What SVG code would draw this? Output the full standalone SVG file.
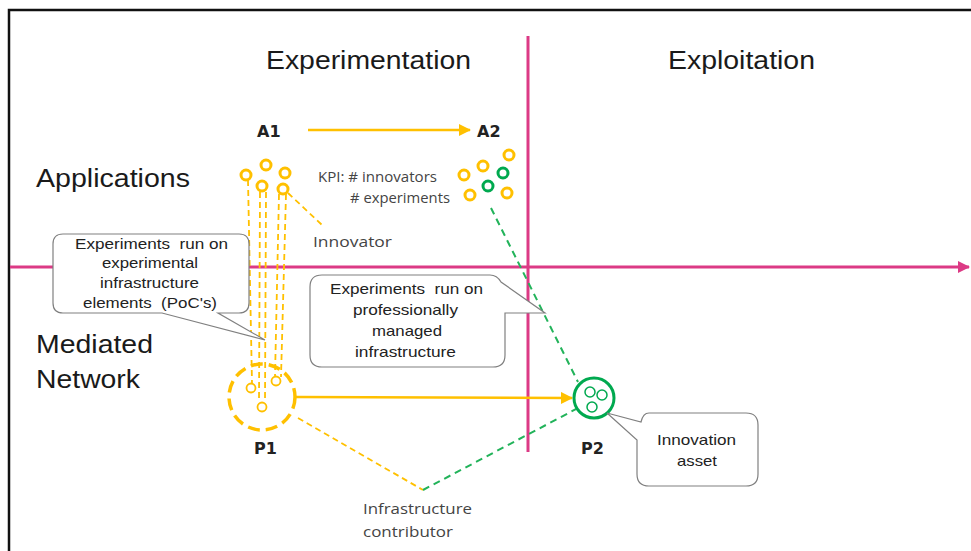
<svg xmlns="http://www.w3.org/2000/svg" width="971" height="551" viewBox="0 0 971 551">
<style>
.hdr{font-family:"Liberation Sans",Arial,sans-serif;font-size:26px;fill:#1a1a1a}
.lbl{font-family:"DejaVu Sans",Verdana,sans-serif;font-size:16px;font-weight:bold;fill:#222}
.sm{font-family:"Open Sans","Liberation Sans",sans-serif;font-size:14px;fill:#444}
.co{font-family:"Liberation Sans",Arial,sans-serif;font-size:15px;fill:#222}
.callout{fill:#fff;stroke:#808080;stroke-width:1.2}
.ring-y{fill:none;stroke:#FFC000;stroke-width:3}
.ring-g{fill:none;stroke:#00A94F;stroke-width:3}
.dy{fill:none;stroke:#FFC000;stroke-width:1.8;stroke-dasharray:6 4}
.dg{fill:none;stroke:#22B35A;stroke-width:2;stroke-dasharray:7 5}
.pink{stroke:#DC3A85;stroke-width:3;fill:none}
</style>
<defs>
<marker id="ay" markerWidth="12" markerHeight="12" refX="11" refY="6" orient="auto" markerUnits="userSpaceOnUse" viewBox="0 0 12 12"><path d="M0,0 L12,6 L0,12 z" fill="#FFC000"/></marker>
<marker id="ap" markerWidth="12" markerHeight="12" refX="11" refY="6" orient="auto" markerUnits="userSpaceOnUse" viewBox="0 0 12 12"><path d="M0,0 L12,6 L0,12 z" fill="#DC3A85"/></marker>
</defs>
<rect width="971" height="551" fill="#fff"/>
<path d="M9,551 L9,10 L971,10" fill="none" stroke="#111" stroke-width="2.5"/>

<g id="axes">
<line class="pink" x1="10" y1="267" x2="969" y2="267" marker-end="url(#ap)"/>
<line class="pink" x1="528" y1="36" x2="528" y2="452"/>
</g>

<g id="headers">
<text class="hdr" x="266" y="69" textLength="205" lengthAdjust="spacingAndGlyphs">Experimentation</text>
<text class="hdr" x="668" y="69" textLength="147" lengthAdjust="spacingAndGlyphs">Exploitation</text>
<text class="hdr" x="36" y="187" textLength="154" lengthAdjust="spacingAndGlyphs">Applications</text>
<text class="hdr" x="36" y="353" textLength="117" lengthAdjust="spacingAndGlyphs">Mediated</text>
<text class="hdr" x="36" y="388" textLength="104" lengthAdjust="spacingAndGlyphs">Network</text>
</g>

<g id="connectors">
<line x1="308" y1="130" x2="470" y2="130" stroke="#FFC000" stroke-width="2.5" marker-end="url(#ay)"/>
<line x1="296" y1="397" x2="572" y2="398" stroke="#FFC000" stroke-width="2.5" marker-end="url(#ay)"/>
<path class="dy" d="M248,180 L252,383"/>
<path class="dy" d="M260,192 L259,402"/>
<path class="dy" d="M266,192 L265,402"/>
<path class="dy" d="M279,194 L275,377"/>
<path class="dy" d="M286,194 L281,377"/>
<path class="dy" d="M288,193 L322,225"/>
<path class="dy" d="M298,418 L423,490"/>
<path class="dg" d="M491,208 L578,382"/>
<path class="dg" d="M423,490 L578,408"/>
</g>

<g id="A1">
<text class="lbl" x="257" y="137">A1</text>
<circle class="ring-y" cx="246" cy="175" r="5"/>
<circle class="ring-y" cx="266" cy="165" r="5"/>
<circle class="ring-y" cx="285" cy="173" r="5"/>
<circle class="ring-y" cx="262" cy="186" r="5"/>
<circle class="ring-y" cx="283" cy="189" r="5"/>
</g>

<g id="A2">
<text class="lbl" x="477" y="137">A2</text>
<circle class="ring-y" cx="464" cy="175" r="5"/>
<circle class="ring-y" cx="483" cy="166" r="5"/>
<circle class="ring-y" cx="509" cy="155" r="5"/>
<circle class="ring-y" cx="470" cy="195" r="5"/>
<circle class="ring-y" cx="507" cy="193" r="5"/>
<circle class="ring-g" cx="503" cy="173" r="5"/>
<circle class="ring-g" cx="488" cy="186" r="5"/>
</g>

<g id="kpi">
<text class="sm" x="318" y="182" font-size="13" textLength="119" lengthAdjust="spacingAndGlyphs">KPI: # innovators</text>
<text class="sm" x="350" y="203" font-size="13" textLength="100" lengthAdjust="spacingAndGlyphs"># experiments</text>
</g>

<g id="innovator">
<text class="sm" x="313" y="247" font-size="16" textLength="79" lengthAdjust="spacingAndGlyphs">Innovator</text>
</g>

<g id="P1">
<circle cx="262" cy="397" r="33" fill="none" stroke="#FFC000" stroke-width="3.5" stroke-dasharray="12 6"/>
<circle cx="251" cy="388" r="4.5" fill="none" stroke="#FFC000" stroke-width="1.8"/>
<circle cx="276" cy="381" r="4.5" fill="none" stroke="#FFC000" stroke-width="1.8"/>
<circle cx="262" cy="407" r="4.5" fill="none" stroke="#FFC000" stroke-width="1.8"/>
<text class="lbl" x="254" y="454">P1</text>
</g>

<g id="P2">
<circle cx="594" cy="398" r="20" fill="#fff" stroke="#00A94F" stroke-width="3"/>
<circle cx="590" cy="392" r="5" fill="none" stroke="#00A94F" stroke-width="1.5"/>
<circle cx="602" cy="395" r="5" fill="none" stroke="#00A94F" stroke-width="1.5"/>
<circle cx="592" cy="407" r="5" fill="none" stroke="#00A94F" stroke-width="1.5"/>
<text class="lbl" x="581" y="454">P2</text>
</g>

<g id="callout-poc">
<path class="callout" d="M63,234 H239 Q249,234 249,244 V303 Q249,313 239,313 H218 L265,340 L162,313 H63 Q53,313 53,303 V244 Q53,234 63,234 Z"/>
<text class="co" x="75" y="249" textLength="153" lengthAdjust="spacingAndGlyphs" xml:space="preserve">Experiments  run on</text>
<text class="co" x="102" y="268" textLength="96" lengthAdjust="spacingAndGlyphs">experimental</text>
<text class="co" x="100" y="288" textLength="99" lengthAdjust="spacingAndGlyphs">infrastructure</text>
<text class="co" x="83" y="308" textLength="134" lengthAdjust="spacingAndGlyphs" xml:space="preserve">elements  (PoC's)</text>
</g>

<g id="callout-prof">
<path class="callout" d="M322,275 H490 Q497,275 501,282 L545,313 H505 V355 Q505,367 493,367 H322 Q310,367 310,355 V287 Q310,275 322,275 Z"/>
<text class="co" x="330" y="294" textLength="153" lengthAdjust="spacingAndGlyphs" xml:space="preserve">Experiments  run on</text>
<text class="co" x="353" y="315" textLength="105" lengthAdjust="spacingAndGlyphs">professionally</text>
<text class="co" x="372" y="336" textLength="70" lengthAdjust="spacingAndGlyphs">managed</text>
<text class="co" x="355" y="357" textLength="101" lengthAdjust="spacingAndGlyphs">infrastructure</text>
</g>

<g id="callout-asset">
<path class="callout" d="M649,413 H746 Q758,413 758,425 V474 Q758,486 746,486 H649 Q637,486 637,474 V440 L607,413 L641,422 Q643,413 649,413 Z"/>
<text class="co" x="657" y="445" textLength="79" lengthAdjust="spacingAndGlyphs">Innovation</text>
<text class="co" x="677" y="466" textLength="40" lengthAdjust="spacingAndGlyphs">asset</text>
</g>

<g id="contributor">
<text class="sm" x="363" y="514" font-size="16" textLength="109" lengthAdjust="spacingAndGlyphs">Infrastructure</text>
<text class="sm" x="363" y="537" font-size="16" textLength="90" lengthAdjust="spacingAndGlyphs">contributor</text>
</g>
</svg>
